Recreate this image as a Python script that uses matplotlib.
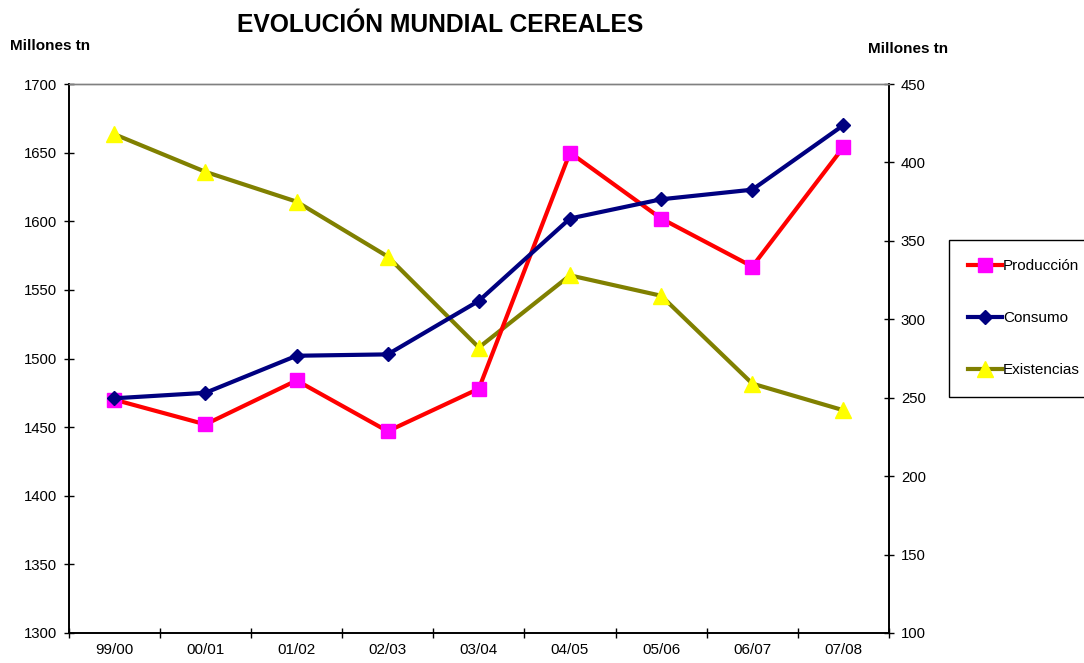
import matplotlib.pyplot as plt
from matplotlib.ticker import FixedLocator, NullFormatter

plt.rcParams['font.family'] = ['Liberation Sans', 'DejaVu Sans']

# datos (millones de toneladas)
campanas = ['99/00', '00/01', '01/02', '02/03', '03/04', '04/05', '05/06', '06/07', '07/08']
produccion = [1470, 1452, 1484, 1447, 1478, 1650, 1602, 1567, 1654]
consumo = [1471, 1475, 1502, 1503, 1542, 1602, 1616, 1623, 1670]
existencias = [418, 394, 375, 340, 282, 328, 315, 259, 242]

W, H = 1084, 663
fig = plt.figure(figsize=(W / 100, H / 100), dpi=100)
fig.patch.set_facecolor('white')

ax = fig.add_axes([68.7 / W, 1 - 633 / H, (889 - 68.7) / W, (633 - 84) / H])
ax2 = ax.twinx()

# el eje de existencias va detras de produccion/consumo
ax.set_zorder(ax2.get_zorder() + 1)
ax.patch.set_visible(False)
ax2.patch.set_facecolor('#C0C0C0')

x = list(range(len(campanas)))

l2, = ax2.plot(x, existencias, color='#808000', lw=3, marker='^', ms=11,
               mfc='#FFFF00', mec='#FFFF00', label='Existencias', clip_on=False)
l0, = ax.plot(x, produccion, color='#FF0000', lw=3, marker='s', ms=10.5,
              mfc='#FF00FF', mec='#FF00FF', label='Producción', clip_on=False)
l1, = ax.plot(x, consumo, color='#000080', lw=3, marker='D', ms=7.5,
              mfc='#000080', mec='#000080', label='Consumo', clip_on=False)

ax.set_xlim(-0.5, len(campanas) - 0.5)
ax.set_ylim(1300, 1700)
ax2.set_ylim(100, 450)
ax.set_yticks(range(1300, 1701, 50))
ax2.set_yticks(range(100, 451, 50))

# ticks en los limites de cada categoria, etiquetas en el centro
ax.xaxis.set_major_locator(FixedLocator([i - 0.5 for i in range(len(campanas) + 1)]))
ax.xaxis.set_major_formatter(NullFormatter())
ax.xaxis.set_minor_locator(FixedLocator(x))
ax.set_xticklabels(campanas, minor=True)
ax.tick_params(axis='x', which='minor', length=0, pad=7, labelsize=11)
ax.tick_params(axis='x', which='major', direction='inout', length=7, width=1)
ax.tick_params(axis='y', direction='inout', length=7, width=1, pad=5, labelsize=10.7)
ax2.tick_params(axis='y', direction='inout', length=7, width=1, pad=5, labelsize=10.7)

for a in (ax, ax2):
    for s in ('left', 'right', 'bottom'):
        a.spines[s].set_color('#000000')
        a.spines[s].set_linewidth(1.2)
    a.spines['top'].set_color('#808080')
    a.spines['top'].set_linewidth(1)

fig.text(440.5 / W, 1 - 25.5 / H, 'EVOLUCIÓN MUNDIAL CEREALES', ha='center', va='center',
         fontsize=17.7, fontweight='bold')
fig.text(10 / W, 1 - 46.5 / H, 'Millones tn', ha='left', va='center',
         fontsize=11, fontweight='bold')
fig.text(868 / W, 1 - 49 / H, 'Millones tn', ha='left', va='center',
         fontsize=11, fontweight='bold')

leg = fig.legend(handles=[l0, l1, l2], loc='upper left',
                 bbox_to_anchor=(949 / W, 1 - 240 / H), fontsize=11,
                 frameon=True, fancybox=False, shadow=False, framealpha=1,
                 edgecolor='black', borderpad=1.25, labelspacing=2.5,
                 handlelength=2.2, handletextpad=0.1, borderaxespad=0)
leg.get_frame().set_linewidth(1)

fig.savefig('out.png', dpi=100)
